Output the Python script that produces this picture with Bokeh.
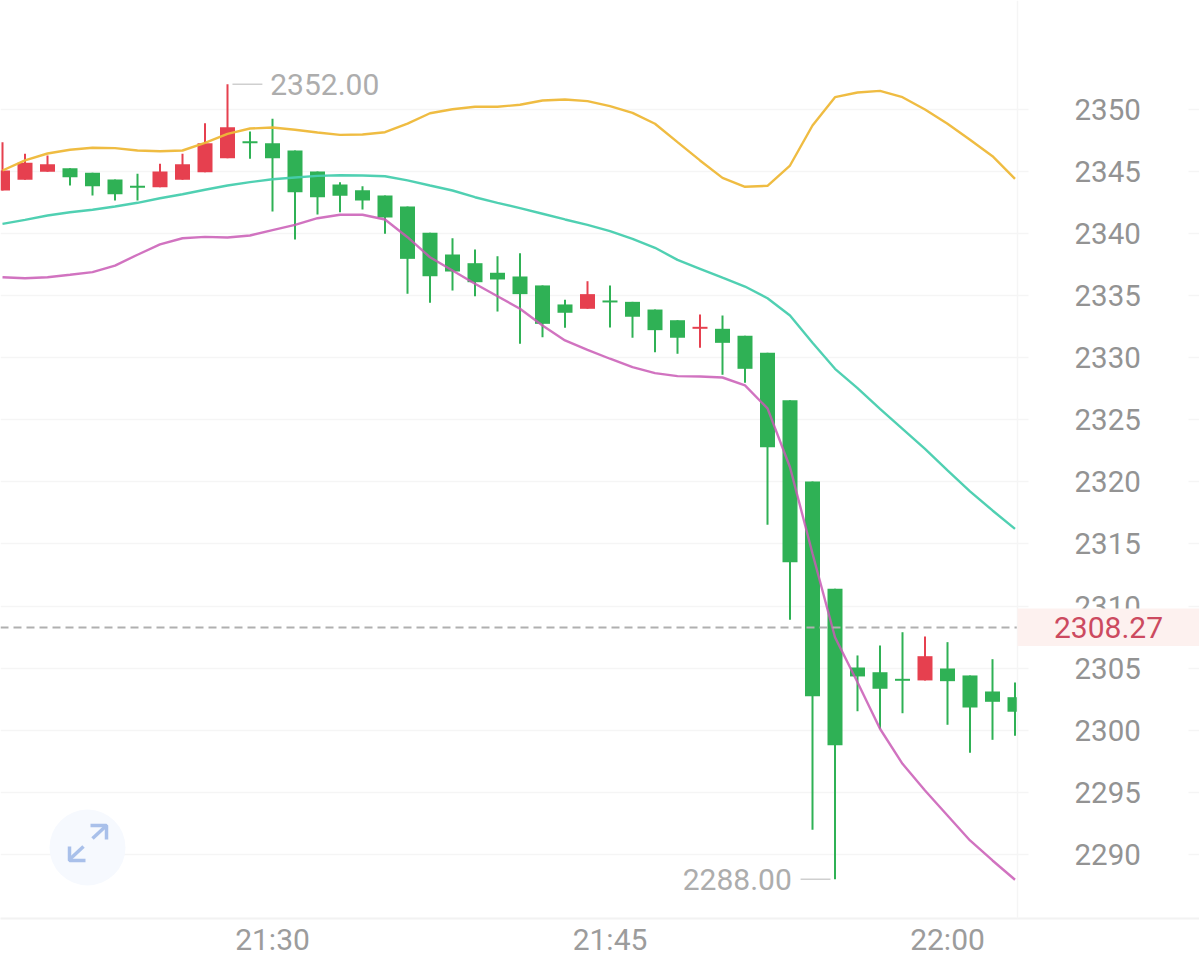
from bokeh.plotting import figure
from bokeh.embed import file_html
from bokeh.resources import INLINE
from bokeh.models import (ColumnDataSource, FixedTicker, LinearAxis, Range1d,
                          BoxAnnotation, Label, Grid)
from bokeh.core.properties import value

minutes = list(range(-12, 34))
opens = [2343.44,2344.30,2344.95,2345.24,2344.87,2344.33,2343.82,2343.71,2344.30,2344.91,2346.04,2347.41,
         2347.25,2346.66,2344.97,2343.92,2343.47,2343.04,2342.15,2340.04,2338.29,2337.59,2336.82,2336.52,
         2335.80,2334.27,2333.92,2334.59,2334.48,2333.86,2333.00,2332.31,2332.31,2331.75,2330.38,2326.56,
         2320.02,2311.39,2305.05,2304.67,2304.14,2304.01,2304.97,2304.41,2303.12,2302.66]
closes = [2345.05,2345.67,2345.56,2344.51,2343.79,2343.14,2343.66,2344.97,2345.56,2347.25,2348.54,2347.25,
          2346.04,2343.30,2342.90,2343.01,2342.64,2341.27,2337.94,2336.54,2336.92,2336.06,2336.28,2335.10,
          2332.71,2333.60,2335.10,2334.43,2333.28,2332.20,2331.59,2332.47,2331.18,2329.09,2322.78,2313.53,
          2302.74,2298.80,2304.33,2303.34,2303.98,2305.96,2303.95,2301.83,2302.29,2301.49]
highs = [2347.33,2346.39,2346.26,2345.24,2344.87,2344.33,2344.78,2345.59,2346.39,2348.86,2352.00,2348.19,
         2349.21,2346.66,2344.97,2344.11,2343.79,2343.04,2342.15,2340.04,2339.60,2338.69,2338.15,2338.39,
         2335.80,2334.64,2336.14,2335.80,2334.48,2333.86,2333.00,2333.46,2333.38,2331.75,2330.38,2326.56,
         2320.02,2311.39,2306.02,2306.82,2307.89,2307.55,2307.09,2304.41,2305.72,2303.85]
lows = [2343.44,2344.30,2344.95,2343.84,2343.04,2342.64,2342.64,2343.71,2344.30,2344.91,2346.04,2345.99,
        2341.75,2339.50,2341.51,2341.69,2341.91,2339.96,2335.13,2334.40,2335.39,2334.93,2333.70,2331.10,
        2331.63,2332.39,2333.92,2332.42,2331.59,2330.43,2330.30,2330.78,2328.61,2327.96,2316.54,2308.89,
        2291.99,2288.00,2301.53,2300.12,2301.37,2304.01,2300.44,2298.19,2299.23,2299.56]
upper_band = [2345.05,2345.86,2346.42,2346.72,2346.88,2346.85,2346.66,2346.60,2346.66,2347.28,2348.00,2348.43,
              2348.51,2348.33,2348.11,2347.92,2347.95,2348.13,2348.83,2349.66,2349.98,2350.18,2350.18,2350.34,
              2350.68,2350.76,2350.63,2350.23,2349.69,2348.81,2347.33,2345.86,2344.46,2343.74,2343.82,2345.45,
              2348.67,2350.95,2351.33,2351.46,2350.95,2349.96,2348.81,2347.52,2346.20,2344.38]
middle_band = [2340.76,2341.08,2341.43,2341.69,2341.89,2342.15,2342.45,2342.82,2343.14,2343.50,2343.84,2344.11,
               2344.35,2344.49,2344.62,2344.67,2344.65,2344.59,2344.25,2343.84,2343.44,2342.90,2342.45,2342.02,
               2341.57,2341.11,2340.68,2340.17,2339.55,2338.83,2337.86,2337.14,2336.42,2335.71,2334.77,2333.38,
               2331.18,2329.09,2327.53,2325.87,2324.26,2322.65,2320.91,2319.22,2317.69,2316.21]
lower_band = [2336.46,2336.38,2336.46,2336.66,2336.87,2337.40,2338.27,2339.10,2339.60,2339.71,2339.66,2339.82,
              2340.25,2340.68,2341.21,2341.49,2341.49,2341.11,2339.68,2338.07,2337.00,2335.93,2334.93,2333.92,
              2332.58,2331.37,2330.62,2329.90,2329.22,2328.74,2328.50,2328.47,2328.39,2327.75,2325.90,2321.17,
              2314.23,2307.49,2303.87,2300.12,2297.30,2295.15,2293.14,2291.13,2289.52,2287.97]
y_ticks = [2290,2295,2300,2305,2310,2315,2320,2325,2330,2335,2340,2345,2350]
x_ticks = [0, 15, 30]
x_tick_labels = ["21:30", "21:45", "22:00"]
last_price = 2308.27
max_price = 2352.00
min_price = 2288.00

GREEN, RED = "#2fb155", "#e6404f"
GRID = "#f5f5f5"
FONT = value("Roboto")

# frame geometry: 1199 x 918 px, minute 0 at px 272, 2350 at px 108.5, 12.425 px per unit
PX_PER_MIN = 22.5
PX_PER_UNIT = 12.425
x0 = -272 / PX_PER_MIN
x1 = (1199 - 272) / PX_PER_MIN
y1 = 2350 + 108.5 / PX_PER_UNIT
y0 = 2350 - (918 - 108.5) / PX_PER_UNIT
def sx(px): return x0 + px / PX_PER_MIN
def sy(py): return y1 - py / PX_PER_UNIT

p = figure(width=1199, height=958, frame_width=1199, frame_height=918,
           output_backend="svg", toolbar_location=None, tools="",
           x_range=Range1d(x0, x1), y_range=Range1d(y0, y1),
           x_axis_location=None, y_axis_location=None,
           min_border=0, min_border_left=0, min_border_right=0, min_border_top=0, min_border_bottom=0,
           margin=(0, 0, 0, 0), outline_line_color=None, background_fill_color="white")
p.xgrid.visible = False
p.ygrid.visible = False

# axes
xaxis = LinearAxis(ticker=FixedTicker(ticks=x_ticks),
                   major_label_overrides=dict(zip(x_ticks, x_tick_labels)),
                   axis_line_color="#f2f2f2", axis_line_width=2,
                   major_tick_line_color=None, minor_tick_line_color=None,
                   major_tick_out=0, major_tick_in=0, minor_tick_out=0, minor_tick_in=0,
                   major_label_text_font="Roboto", major_label_text_font_size="30px",
                   major_label_text_color="#9c9c9c", major_label_standoff=3)
p.add_layout(xaxis, "below")
yaxis = LinearAxis(ticker=FixedTicker(ticks=y_ticks), fixed_location=sx(1017),
                   axis_line_color=GRID, axis_line_width=1.5,
                   major_tick_line_color=GRID, major_tick_line_width=1.5,
                   major_tick_out=11, major_tick_in=0, minor_tick_line_color=None,
                   major_label_text_font="Roboto", major_label_text_font_size="29.5px",
                   major_label_text_color="#939393", major_label_standoff=46)
p.add_layout(yaxis, "right")
p.add_layout(Grid(dimension=1, ticker=FixedTicker(ticks=y_ticks),
                  grid_line_color=GRID, grid_line_width=1.5))

# expand icon
p.scatter([sx(87)], [sy(847)], size=76, marker="circle", fill_color="#f6f9fe", line_color=None)
icon_xs = [[sx(92), sx(106)], [sx(90), sx(106), sx(106)], [sx(83), sx(69)], [sx(85), sx(69), sx(69)]]
icon_ys = [[sy(838), sy(825)], [sy(825), sy(825), sy(839)], [sy(846), sy(859)], [sy(860), sy(860), sy(846)]]
p.multi_line(icon_xs, icon_ys, line_color="#a9c0ea", line_width=3.5)

colors = [RED if c >= o else GREEN for o, c in zip(opens, closes)]
src = ColumnDataSource(dict(x=minutes, open=opens, close=closes, high=highs, low=lows, color=colors))
p.segment("x", "high", "x", "low", source=src, line_color="color", line_width=2)
p.vbar(x="x", top="open", bottom="close", width=15 / PX_PER_MIN, source=src,
       fill_color="color", line_color=None)

p.line(minutes, upper_band, line_color="#eeb838", line_width=2.4, line_alpha=0.95)
p.line(minutes, middle_band, line_color="#47cdae", line_width=2.4, line_alpha=0.95)
p.line(minutes, lower_band, line_color="#c95bb5", line_width=2.4, line_alpha=0.85)

p.segment([x0], [last_price], [sx(1017)], [last_price], line_color="#b0b0b0",
          line_width=1.8, line_dash="8 5")

# high / low callouts
t_high = minutes[highs.index(max_price)]
t_low = minutes[lows.index(min_price)]
p.segment([t_high + 0.22], [max_price], [t_high + 1.55], [max_price], line_color="#cfcfcf", line_width=1.5)
p.segment([t_low - 1.53], [min_price], [t_low - 0.2], [min_price], line_color="#cfcfcf", line_width=1.5)
p.text([t_high + 1.9], [max_price], text=[f"{max_price:.2f}"], text_font=FONT, text_font_size="30px",
       text_color="#adadad", text_align="left", text_baseline="middle")
p.text([t_low - 1.92], [min_price], text=[f"{min_price:.2f}"], text_font=FONT, text_font_size="30px",
       text_color="#adadad", text_align="right", text_baseline="middle")

# white mask right of the chart area: hides gridlines behind the axis labels
p.quad(left=[sx(1017)], right=[sx(1188)], top=[y1], bottom=[y0], fill_color="white", line_color=None)

# last price tag over the axis
p.add_layout(BoxAnnotation(left=sx(1017), right=x1, top=sy(608), bottom=sy(645.5),
                           fill_color="#fdf1ef", fill_alpha=1, line_color=None))
p.add_layout(Label(x=sx(1108), y=last_price, text=f"{last_price:.2f}",
                   text_font="Roboto", text_font_size="30px", text_color="#cc4a60",
                   text_align="center", text_baseline="middle"))

open("out.html", "w").write(file_html(p, INLINE))
